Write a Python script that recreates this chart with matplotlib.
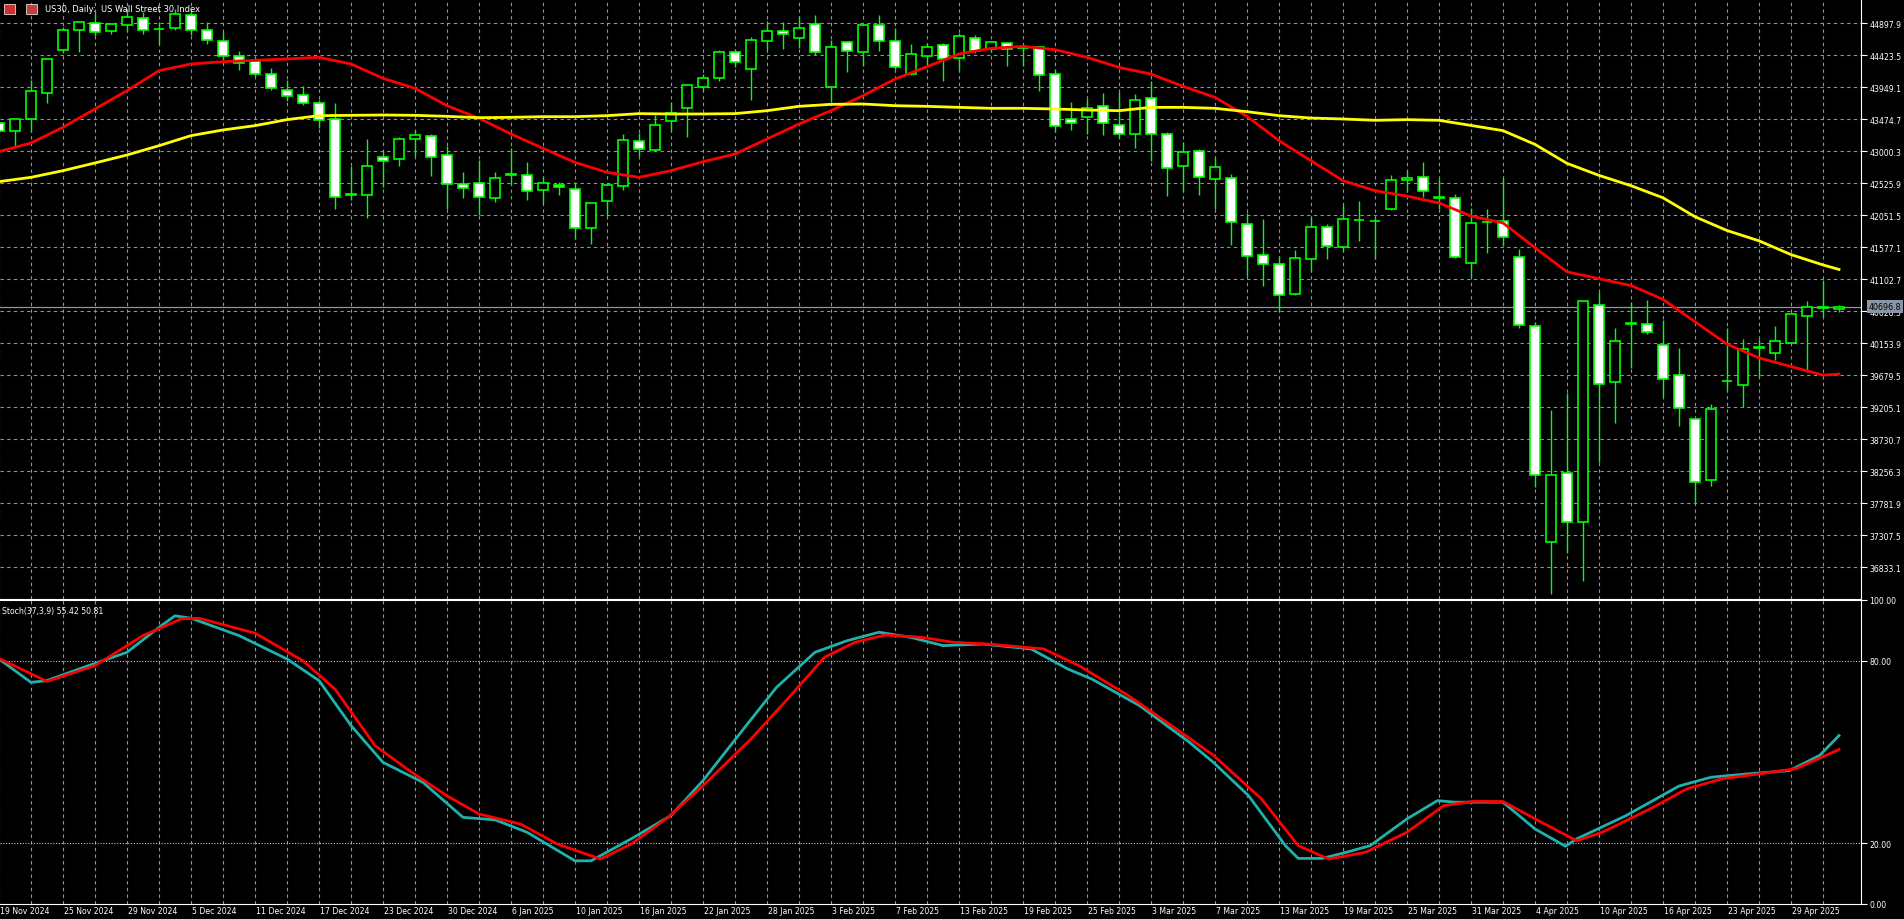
import numpy as np
import pandas as pd
import matplotlib
matplotlib.use("Agg")
import matplotlib.pyplot as plt
from matplotlib.patches import Rectangle

# ---------------- data ----------------
dates = [d for d in pd.bdate_range("2024-11-19", "2025-05-02")
         if d.strftime("%Y-%m-%d") not in ("2024-12-25", "2025-01-01", "2025-04-18")]

opens = [43412,43304,43472,43867,44504,44791,44894,44776,44865,44968,44805,44830,45018,44791,44628,44415,
         44341,44139,43901,43827,43709,43472,42345,42345,42909,42879,43175,43225,42938,42508,42523,42301,
         42647,42652,42419,42503,42434,41856,42256,42479,43155,43022,43442,43635,43946,44089,44465,44213,
         44637,44776,44682,44884,43956,44613,44465,44865,44628,44139,44405,44568,44376,44672,44514,44598,
         44539,44539,44139,43472,43501,43674,43393,43259,43793,43249,42775,42997,42582,42597,41916,41466,
         41323,40888,41397,41871,41585,41980,41965,42148,42579,42610,42304,42299,41339,41947,41962,41426,
         40405,37206,38227,37502,40717,39574,40441,40436,40125,39676,39028,38124,39589,39533,40089,40013,
         40161,40553,40691,40656]
highs = [43427,43491,44055,44361,44840,44929,45057,44884,45082,45057,44919,45107,45082,44919,44761,44489,
         44376,44227,44055,43961,43763,43714,42775,43180,43007,43210,43319,43259,43081,42686,42869,42686,
         43042,42834,42612,42548,42548,42227,42493,43254,43264,43536,43733,43995,44143,44499,44514,44692,
         44924,44909,45008,45018,44647,44637,44865,45023,44820,44588,44603,44603,44751,44721,44613,44613,
         44588,44563,44218,43728,43773,43857,43872,43847,44035,43284,43131,43032,42894,42661,42079,41995,
         41451,41540,42019,41920,42202,42266,42005,42647,42707,42840,42590,42360,42156,42141,42605,41543,
         40472,39160,39410,40773,40916,40380,40763,40793,40497,40089,39028,39247,40385,40217,40217,40411,
         40584,40778,41094,40722]
lows = [43279,43081,43279,43719,44455,44465,44712,44741,44776,44731,44593,44800,44721,44593,44356,44208,
        44109,43901,43743,43689,43343,42138,42281,42005,42464,42785,42933,42637,42138,42306,42054,42252,
        42498,42281,42227,42355,41698,41624,42044,42429,42933,43002,43304,43215,43911,44045,44252,43758,
        44504,44514,44534,44430,43733,44168,44267,44489,44218,44129,44267,44045,44203,44450,44465,44267,
        44267,43896,43289,43319,43254,43244,43200,43052,42849,42340,42400,42355,42138,41614,41155,41007,
        40636,40873,41229,41402,41515,41674,41402,42128,42411,42324,42141,41416,41135,41492,41594,40385,
        38022,36440,37038,36634,38390,38966,39793,40293,39364,38926,37783,38038,39467,39211,39655,39910,
        40151,39732,40538,40620]
closes = [43294,43472,43887,44361,44791,44909,44761,44884,44983,44791,44810,45028,44791,44642,44405,44306,
          44139,43931,43812,43709,43462,42316,42360,42775,42849,43175,43235,42909,42508,42449,42316,42597,
          42657,42405,42523,42464,41856,42227,42493,43160,43027,43383,43570,43975,44079,44465,44316,44642,
          44776,44731,44830,44465,44539,44479,44865,44628,44242,44435,44549,44361,44702,44479,44613,44514,
          44534,44124,43368,43412,43645,43412,43249,43753,43249,42745,42983,42612,42760,41945,41441,41323,
          40868,41412,41871,41590,41990,41985,41970,42568,42595,42406,42314,41426,41931,41957,41722,40421,
          38196,38196,37502,40773,39548,40191,40451,40319,39620,39196,38094,39176,39599,40064,40099,40181,
          40584,40686,40671,40696.8]

ma_pos = list(range(0, 115, 2)) + [115]
ma_red = [42993,43121,43353,43625,43897,44193,44292,44326,44346,44366,44391,44292,44079,43931,43674,43487,
          43254,43042,42834,42686,42612,42711,42844,42958,43180,43403,43600,43822,44069,44252,44440,44524,
          44554,44504,44391,44242,44143,43961,43798,43516,43155,42859,42563,42414,42334,42232,42038,41936,
          41569,41212,41110,41008,40804,40472,40140,39936,39808,39681,39696]
ma_yellow = [42548,42612,42711,42825,42943,43081,43230,43314,43378,43467,43526,43531,43536,43531,43516,43496,
             43501,43511,43511,43526,43556,43551,43551,43556,43600,43664,43694,43699,43674,43664,43649,43635,
             43635,43625,43610,43600,43649,43649,43635,43585,43526,43491,43477,43457,43467,43457,43381,43304,
             43100,42819,42641,42488,42309,42028,41824,41671,41467,41314,41247]

st_main_pos = [0,2,3,5,8,10,11,12,15,18,20,22,24,26.5,29,31,33,36,37,39.5,42,44,46.7,48.6,51,53,55,57,59,
               61.5,64.5,66.8,68.3,71.3,74.4,75.9,78.1,80.4,81.2,82.7,84.2,85.7,88,89.9,91,94,96,97.9,98.6,
               101.7,105,107,109.3,111.9,113.8,115]
st_main = [80.6,72.9,73.5,77.3,82.8,91.0,94.8,94.0,88.3,80.6,73.5,58.7,46.6,40.0,28.5,27.7,23.6,14.2,14.2,
           21.4,29.1,40.6,58.7,71.3,82.8,86.6,89.4,87.7,85.0,85.5,83.9,77.3,74.0,65.2,53.2,46.6,35.6,19.2,
           15.0,15.0,17.0,19.2,28.0,34.0,33.5,33.5,24.7,19.0,21.4,29.1,38.8,41.7,42.8,43.9,48.9,55.42]
st_sig_pos = [0,3,6,9,11.4,12.5,16,19,21,23.5,25.8,28,30,32.6,34.9,37.6,39.5,41.7,44,47,49.3,51.6,53.5,55.4,
              57.7,59.6,61.8,65.3,67.5,70.6,73.6,75.9,78.9,81.2,83.1,85.4,88,90.3,92.2,94,96.4,98.6,100.2,
              103.2,105.5,107.7,110,112.3,115]
st_sig = [80.8,73.2,78.4,88.3,93.8,94.0,89.1,80.0,70.7,52.1,43.3,35.6,29.6,26.3,19.7,14.8,19.7,28.0,38.9,54.3,
          67.5,81.2,86.1,88.5,87.7,86.1,85.5,83.9,78.4,68.5,57.5,48.9,34.6,19.2,14.8,17.0,23.6,32.4,33.8,33.7,
          26.9,20.8,23.6,31.3,37.9,41.2,42.8,44.5,50.81]

price_ticks = [44897.9,44423.5,43949.1,43474.7,43000.3,42525.9,42051.5,41577.1,41102.7,40628.3,40153.9,
               39679.5,39205.1,38730.7,38256.3,37781.9,37307.5,36833.1]
last_price = 40696.8

# ---------------- figure ----------------
W, H = 1904, 920
fig = plt.figure(figsize=(W/100, H/100), dpi=100, facecolor="black")
R = 1861/W
ax = fig.add_axes([0, 1-600/H, R, 600/H], facecolor="black")
ax2 = fig.add_axes([0, 15/H, R, 304/H], facecolor="black")
n = len(opens)
xlim = (0.0625, 116.375)
gridc = "#8a96a6"
for a in (ax, ax2):
    a.set_xlim(*xlim)
    for s in a.spines.values():
        s.set_visible(False)
    a.spines["right"].set_visible(True)
    a.spines["right"].set_color("white")
    a.set_xticks([])
    for xb in range(0, n, 2):
        a.axvline(xb, color=gridc, lw=0.8, ls=(0, (3, 3)), zorder=0)
ax.spines["bottom"].set_visible(True)
ax.spines["bottom"].set_color("white")
ax2.spines["top"].set_visible(True)
ax2.spines["top"].set_color("white")
ax2.spines["bottom"].set_visible(True)
ax2.spines["bottom"].set_color("white")

ax.set_ylim(45255 - 14.82*600, 45255)
for p in price_ticks:
    ax.axhline(p, color=gridc, lw=0.8, ls=(0, (3, 3)), zorder=0)
ax.yaxis.tick_right()
ax.set_yticks(price_ticks)
ax.set_yticklabels([f"{p:.1f}" for p in price_ticks])
ax.tick_params(axis="y", colors="white", labelsize=5.6, length=4, pad=2)

# candles
lime = "#00ff00"
xs = np.arange(n)
ax.vlines(xs, lows, highs, color=lime, lw=1, zorder=3)
for i in range(n):
    o, c = opens[i], closes[i]
    lo, hi = min(o, c), max(o, c)
    fc = "white" if c < o else "black"
    ax.add_patch(Rectangle((i-0.31, lo), 0.62, max(hi-lo, 1), facecolor=fc, edgecolor=lime, lw=1.2, zorder=4))

ax.plot(ma_pos, ma_red, color="#ff0000", lw=2, zorder=5)
ax.plot(ma_pos, ma_yellow, color="#ffff00", lw=2, zorder=5)

ax.axhline(last_price, color="#8a96a6", lw=0.9, zorder=2)
ax.text(1.004, last_price, f"{last_price:.1f}", transform=ax.get_yaxis_transform(), color="black",
        fontsize=5.8, va="center", ha="left", zorder=10, clip_on=False,
        bbox=dict(boxstyle="square,pad=0.2", fc="#8a96a6", ec="none"))

fig.text(45/W, 1-9/H, "US30, Daily:  US Wall Street 30 Index", color="white", fontsize=6, va="center")
fig.patches.append(Rectangle((4/W, 1-15/H), 11/W, 10/H, transform=fig.transFigure, fc="#d03030", ec="white", lw=0.5))
fig.patches.append(Rectangle((26/W, 1-15/H), 11/W, 10/H, transform=fig.transFigure, fc="#c04040", ec="white", lw=0.5))

# stochastic
ax2.set_ylim(0, 100)
for v in (80, 20):
    ax2.axhline(v, color="#c8c8c8", lw=0.8, ls=(0, (1, 1.5)), zorder=1)
ax2.yaxis.tick_right()
ax2.set_yticks([0, 20, 80, 100])
ax2.set_yticklabels(["0.00", "20.00", "80.00", "100.00"])
ax2.tick_params(axis="y", colors="white", labelsize=5.6, length=4, pad=2)
ax2.plot(st_main_pos, st_main, color="#20b2aa", lw=2, zorder=4)
ax2.plot(st_sig_pos, st_sig, color="#ff0000", lw=2, zorder=5)
ax2.text(0.001, 0.965, f"Stoch(37,3,9) {st_main[-1]:.2f} {st_sig[-1]:.2f}", transform=ax2.transAxes,
         color="white", fontsize=5.6, va="center", ha="left")

# date labels
for i in range(0, n, 4):
    xf = (i - xlim[0]) / (xlim[1] - xlim[0]) * R
    fig.text(xf + 1/W, 8/H, f"{dates[i].day} {dates[i].strftime('%b %Y')}", color="white",
             fontsize=5.6, ha="left", va="center")

fig.savefig("out.png", dpi=100, facecolor="black")
